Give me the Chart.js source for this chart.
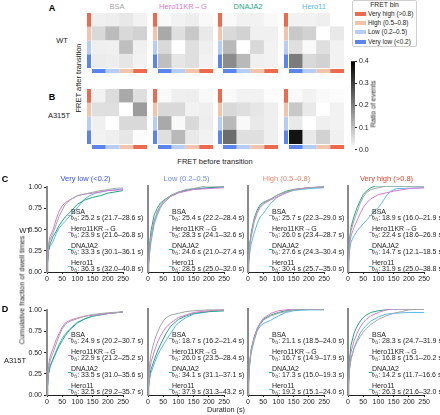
<!DOCTYPE html>
<html><head><meta charset="utf-8">
<script src="https://cdn.jsdelivr.net/npm/chart.js@4"></script>
<style>
body{margin:0;width:440px;height:415px;position:relative;background:#fff;font-family:"Liberation Sans",Arial,sans-serif;overflow:hidden}
.t{position:absolute;white-space:nowrap;font-size:7px;color:#222;line-height:1}
canvas{position:absolute}
sub{font-size:5px;vertical-align:-1px;line-height:0}
</style></head><body>
<script>
// ---------- DATA ----------
const binsBefore = ['Very low', 'Low', 'High', 'Very high'];
const legendLabels = ['Very high (>0.8)', 'High (0.5–0.8)', 'Low (0.2–0.5)', 'Very low (<0.2)'];
const binColors = ['#5c84ee', '#b8cdf5', '#f4c3ab', '#ee6a4f']; // very low .. very high
const proteins = ['BSA', 'Hero11KR→G', 'DNAJA2', 'Hero11'];
const proteinColors = ['#a5a5a5', '#d97bd0', '#22a97f', '#5ab8f0'];
const panelTitles = ['Very low (<0.2)', 'Low (0.2–0.5)', 'High (0.5–0.8)', 'Very high (>0.8)'];
const panelTitleColors = ['#3552ee', '#6d8df2', '#e88a70', '#e0462c'];
const colorbarTicks = [0, 0.1, 0.2, 0.3, 0.4];

// heatmaps: rows = after (Very high, High, Low, Very low), cols = before (Very low..Very high)
const hm_WT_BSA = [[0.024,0.027,0.036,0.02],[0.06,0.107,0.06,0.07],[0.025,0.024,0.1,0.024],[0.03,0.027,0.04,0.02]];
const hm_WT_KR  = [[0.01,0.02,0.027,0.01],[0.135,0.05,0.086,0.035],[0.06,0.0,0.05,0.025],[0.1,0.04,0.05,0.02]];
const hm_WT_DJ  = [[0.01,0.02,0.02,0.01],[0.06,0.07,0.024,0.024],[0.11,0.0,0.06,0.02],[0.18,0.11,0.024,0.02]];
const hm_WT_H11 = [[0.02,0.02,0.025,0.0],[0.086,0.07,0.0,0.035],[0.05,0.01,0.05,0.02],[0.205,0.06,0.07,0.02]];
const hm_MT_BSA = [[0.02,0.055,0.135,0.05],[0.05,0.05,0.0,0.155],[0.024,0.0,0.06,0.06],[0.02,0.025,0.04,0.005]];
const hm_MT_KR  = [[0.01,0.025,0.027,0.01],[0.06,0.06,0.02,0.025],[0.135,0.01,0.06,0.027],[0.05,0.11,0.035,0.02]];
const hm_MT_DJ  = [[0.01,0.02,0.02,0.005],[0.06,0.05,0.04,0.025],[0.11,0.01,0.035,0.025],[0.23,0.05,0.05,0.025]];
const hm_MT_H11 = [[0.01,0.02,0.01,0.005],[0.086,0.035,0.0,0.02],[0.035,0.0,0.025,0.02],[0.37,0.035,0.07,0.024]];

// CDF curves [duration s, cumulative fraction]
const c_WT_VL_BSA = [[0,0],[2,0.12],[5,0.3],[10,0.38],[20,0.46],[30,0.56],[40,0.66],[50,0.73],[60,0.8],[80,0.86],[100,0.9],[125,0.92],[150,0.94],[175,0.96],[200,0.97],[230,0.99],[250,0.99]];
const c_WT_VL_KR  = [[0,0],[2,0.15],[5,0.33],[10,0.42],[20,0.5],[30,0.62],[40,0.72],[50,0.78],[60,0.82],[80,0.86],[100,0.9],[125,0.92],[150,0.93],[200,0.96],[250,0.97]];
const c_WT_VL_DJ  = [[0,0],[2,0.1],[5,0.25],[10,0.33],[20,0.42],[30,0.48],[40,0.55],[50,0.6],[60,0.65],[80,0.72],[100,0.8],[125,0.85],[150,0.88],[175,0.9],[200,0.93],[250,0.96]];
const c_WT_VL_H11 = [[0,0],[2,0.1],[5,0.25],[10,0.3],[20,0.36],[30,0.45],[40,0.52],[50,0.56],[60,0.6],[80,0.68],[100,0.76],[120,0.85],[140,0.9],[160,0.93],[200,0.96],[250,0.98]];
const c_WT_L_BSA  = [[0,0],[2,0.1],[5,0.25],[10,0.4],[20,0.58],[30,0.7],[40,0.77],[50,0.82],[75,0.89],[100,0.93],[125,0.96],[150,0.97],[175,0.99],[190,1.0],[250,1.0]];
const c_WT_L_KR   = [[0,0],[2,0.1],[5,0.27],[10,0.42],[20,0.6],[30,0.68],[40,0.76],[50,0.8],[75,0.88],[100,0.92],[125,0.94],[150,0.96],[200,0.97],[250,0.98]];
const c_WT_L_DJ   = [[0,0],[2,0.12],[5,0.32],[10,0.48],[20,0.66],[30,0.74],[40,0.8],[50,0.83],[75,0.89],[100,0.93],[125,0.95],[150,0.96],[200,0.98],[250,0.99]];
const c_WT_L_H11  = [[0,0],[2,0.08],[5,0.2],[10,0.35],[20,0.55],[30,0.66],[40,0.74],[50,0.8],[75,0.88],[100,0.92],[125,0.95],[150,0.97],[200,0.98],[250,0.99]];
const c_WT_H_BSA  = [[0,0],[2,0.12],[5,0.3],[10,0.42],[20,0.6],[30,0.7],[40,0.76],[50,0.8],[75,0.85],[100,0.9],[125,0.93],[150,0.95],[175,0.97],[200,0.98],[250,0.99]];
const c_WT_H_KR   = [[0,0],[2,0.1],[5,0.28],[10,0.4],[20,0.58],[30,0.68],[40,0.75],[50,0.79],[75,0.84],[100,0.88],[125,0.92],[150,0.96],[200,0.98],[250,0.99]];
const c_WT_H_DJ   = [[0,0],[2,0.12],[5,0.3],[10,0.45],[20,0.62],[30,0.72],[40,0.78],[50,0.81],[75,0.85],[100,0.9],[125,0.94],[150,0.96],[200,0.98],[250,0.99]];
const c_WT_H_H11  = [[0,0],[2,0.08],[5,0.2],[10,0.32],[20,0.45],[30,0.56],[40,0.64],[50,0.68],[60,0.73],[75,0.8],[90,0.85],[100,0.88],[125,0.92],[150,0.95],[200,0.97],[250,0.98]];
const c_WT_VH_BSA = [[0,0],[2,0.15],[5,0.35],[10,0.48],[20,0.6],[30,0.7],[40,0.8],[50,0.87],[60,0.92],[75,0.96],[100,0.98],[125,1.0],[250,1.0]];
const c_WT_VH_KR  = [[0,0],[2,0.12],[5,0.3],[10,0.42],[20,0.52],[30,0.6],[40,0.68],[50,0.75],[60,0.8],[75,0.85],[100,0.9],[125,0.92],[150,0.94],[200,0.97],[250,0.98]];
const c_WT_VH_DJ  = [[0,0],[2,0.18],[5,0.38],[10,0.52],[20,0.65],[30,0.75],[40,0.83],[50,0.9],[60,0.94],[75,0.98],[90,1.0],[250,1.0]];
const c_WT_VH_H11 = [[0,0],[2,0.1],[5,0.25],[10,0.35],[20,0.42],[30,0.48],[40,0.52],[50,0.56],[60,0.6],[75,0.66],[90,0.72],[100,0.75],[110,0.8],[125,0.88],[140,0.94],[160,0.97],[250,0.98]];
const c_MT_VL_BSA = [[0,0],[2,0.12],[5,0.3],[10,0.4],[20,0.5],[30,0.6],[40,0.7],[50,0.78],[60,0.83],[75,0.87],[100,0.9],[125,0.93],[150,0.95],[200,0.97],[250,0.98]];
const c_MT_VL_KR  = [[0,0],[2,0.15],[5,0.35],[10,0.45],[20,0.55],[30,0.65],[40,0.73],[50,0.8],[60,0.85],[75,0.88],[100,0.91],[125,0.93],[150,0.94],[200,0.96],[250,0.98]];
const c_MT_VL_DJ  = [[0,0],[2,0.1],[5,0.25],[10,0.33],[20,0.42],[30,0.5],[40,0.58],[50,0.64],[60,0.7],[75,0.77],[100,0.85],[125,0.9],[150,0.93],[200,0.96],[250,0.98]];
const c_MT_VL_H11 = [[0,0],[2,0.1],[5,0.25],[10,0.34],[20,0.43],[30,0.52],[40,0.6],[50,0.67],[60,0.72],[75,0.78],[100,0.86],[125,0.9],[150,0.93],[200,0.96],[250,0.98]];
const c_MT_L_BSA  = [[0,0],[2,0.15],[5,0.35],[10,0.48],[20,0.62],[30,0.72],[40,0.8],[50,0.86],[60,0.9],[75,0.93],[100,0.95],[125,0.97],[150,0.98],[200,0.99],[250,0.99]];
const c_MT_L_KR   = [[0,0],[2,0.12],[5,0.28],[10,0.38],[20,0.5],[30,0.6],[40,0.68],[50,0.74],[60,0.79],[75,0.84],[100,0.9],[125,0.93],[150,0.96],[200,0.98],[250,0.99]];
const c_MT_L_DJ   = [[0,0],[2,0.1],[5,0.22],[10,0.3],[20,0.4],[30,0.5],[40,0.58],[50,0.65],[60,0.72],[75,0.8],[100,0.88],[125,0.92],[150,0.95],[200,0.97],[250,0.98]];
const c_MT_L_H11  = [[0,0],[2,0.08],[5,0.18],[10,0.26],[20,0.36],[30,0.45],[40,0.52],[50,0.58],[60,0.64],[75,0.72],[90,0.8],[100,0.84],[125,0.9],[150,0.94],[200,0.97],[250,0.98]];
const c_MT_H_BSA  = [[0,0],[2,0.15],[5,0.35],[10,0.5],[20,0.65],[30,0.75],[40,0.82],[50,0.87],[75,0.92],[100,0.95],[125,0.97],[150,0.99],[175,1.0],[250,1.0]];
const c_MT_H_KR   = [[0,0],[2,0.15],[5,0.36],[10,0.52],[20,0.67],[30,0.77],[40,0.84],[50,0.89],[75,0.95],[100,0.98],[125,0.99],[150,1.0],[250,1.0]];
const c_MT_H_DJ   = [[0,0],[2,0.15],[5,0.36],[10,0.52],[20,0.67],[30,0.77],[40,0.83],[50,0.88],[75,0.93],[100,0.96],[125,0.98],[150,0.99],[200,1.0],[250,1.0]];
const c_MT_H_H11  = [[0,0],[2,0.14],[5,0.33],[10,0.48],[20,0.63],[30,0.74],[40,0.8],[50,0.83],[75,0.87],[100,0.92],[125,0.96],[150,0.98],[200,0.99],[250,0.99]];
const c_MT_VH_BSA = [[0,0],[2,0.12],[5,0.3],[10,0.42],[20,0.54],[30,0.62],[40,0.68],[50,0.73],[60,0.77],[75,0.82],[100,0.88],[125,0.92],[150,0.95],[175,0.97],[200,0.99],[250,1.0]];
const c_MT_VH_KR  = [[0,0],[2,0.15],[5,0.36],[10,0.5],[20,0.63],[30,0.72],[40,0.79],[50,0.84],[60,0.88],[75,0.92],[100,0.96],[125,0.99],[150,1.0],[250,1.0]];
const c_MT_VH_DJ  = [[0,0],[2,0.18],[5,0.42],[10,0.58],[20,0.72],[30,0.8],[40,0.86],[50,0.9],[60,0.93],[75,0.96],[100,0.98],[150,1.0],[250,1.0]];
const c_MT_VH_H11 = [[0,0],[2,0.12],[5,0.3],[10,0.42],[20,0.55],[30,0.64],[40,0.72],[50,0.77],[60,0.81],[75,0.86],[100,0.91],[125,0.94],[150,0.95],[200,0.96],[250,0.96]];

// half-times
const th_WT_VL = ['25.2 s (21.7–28.6 s)', '23.9 s (21.6–26.8 s)', '33.3 s (30.1–36.1 s)', '36.3 s (32.0–40.8 s)'];
const th_WT_L  = ['25.4 s (22.2–28.4 s)', '28.3 s (24.1–32.6 s)', '24.6 s (21.0–27.4 s)', '28.5 s (25.0–32.0 s)'];
const th_WT_H  = ['25.7 s (22.3–29.0 s)', '26.0 s (23.4–28.7 s)', '27.6 s (24.3–30.4 s)', '30.4 s (25.7–35.0 s)'];
const th_WT_VH = ['18.9 s (16.0–21.9 s)', '22.4 s (18.6–26.9 s)', '14.7 s (12.1–18.5 s)', '31.9 s (25.0–38.8 s)'];
const th_MT_VL = ['24.9 s (20.2–30.7 s)', '22.9 s (21.2–25.2 s)', '33.5 s (31.0–35.6 s)', '32.5 s (29.2–35.7 s)'];
const th_MT_L  = ['18.7 s (16.2–21.4 s)', '26.0 s (23.5–28.4 s)', '34.1 s (31.1–37.1 s)', '37.9 s (31.3–43.2 s)'];
const th_MT_H  = ['21.1 s (18.5–24.0 s)', '16.7 s (14.9–17.9 s)', '17.3 s (15.0–19.3 s)', '19.2 s (15.1–24.0 s)'];
const th_MT_VH = ['28.3 s (24.7–31.9 s)', '16.8 s (15.1–20.2 s)', '14.2 s (11.7–16.6 s)', '26.3 s (21.6–32.0 s)'];

// ---------- RENDER ----------
Chart.defaults.font.family = '"Liberation Sans", Arial, sans-serif';
Chart.defaults.font.size = 7;
Chart.defaults.color = '#222';
Chart.defaults.animation = false;
Chart.defaults.responsive = false;
Chart.defaults.plugins.legend.display = false;
Chart.defaults.plugins.tooltip.enabled = false;

function mkCanvas(l, t, w, h) {
  const c = document.createElement('canvas');
  c.width = w; c.height = h;
  c.style.left = l + 'px'; c.style.top = t + 'px';
  c.style.width = w + 'px'; c.style.height = h + 'px';
  document.body.appendChild(c);
  return c;
}
function txt(html, x, y, o = {}) {
  const d = document.createElement('div');
  d.className = 't';
  d.innerHTML = html;
  d.style.left = x + 'px'; d.style.top = y + 'px';
  if (o.size) d.style.fontSize = o.size + 'px';
  if (o.color) d.style.color = o.color;
  if (o.bold) d.style.fontWeight = 'bold';
  let tr = o.anchor === 'left' ? 'translate(0,-50%)' : 'translate(-50%,-50%)';
  if (o.rot) tr += ' rotate(' + o.rot + 'deg)';
  d.style.transform = tr;
  document.body.appendChild(d);
  return d;
}
function gray(v) {
  const c = Math.round(255 * (1 - Math.min(v, 0.4) / 0.4));
  return `rgb(${c},${c},${c})`;
}

// Heatmaps
const hmGridX = [92, 158, 223, 289], hmGridY = [13, 89], hmSize = 55;
const hmAll = [[hm_WT_BSA, hm_WT_KR, hm_WT_DJ, hm_WT_H11], [hm_MT_BSA, hm_MT_KR, hm_MT_DJ, hm_MT_H11]];
const stripPlugin = {
  id: 'strips',
  afterDatasetsDraw(chart) {
    const { ctx, chartArea: a, scales: { x, y } } = chart;
    for (let i = 0; i < 4; i++) {
      ctx.fillStyle = binColors[i];
      const l = x.getPixelForValue(i - 0.5), r = x.getPixelForValue(i + 0.5);
      ctx.fillRect(l, a.bottom + 1, r - l, 4);
      const t = y.getPixelForValue(i + 1), b = y.getPixelForValue(i);
      ctx.fillRect(a.left - 5, t, 4, b - t);
    }
  }
};
hmAll.forEach((row, r) => row.forEach((m, c) => {
  const cv = mkCanvas(hmGridX[c] - 5, hmGridY[r], hmSize + 5, hmSize + 5);
  const datasets = [0, 1, 2, 3].map(j => ({
    data: [1, 1, 1, 1],
    backgroundColor: m[3 - j].map(gray),
    borderWidth: 0, barPercentage: 1, categoryPercentage: 1
  }));
  new Chart(cv, {
    type: 'bar',
    data: { labels: binsBefore, datasets },
    options: {
      layout: { padding: { left: 5, bottom: 5, top: 0, right: 0 } },
      scales: { x: { stacked: true, display: false }, y: { stacked: true, display: false, min: 0, max: 4 } }
    },
    plugins: [stripPlugin]
  });
}));
proteins.forEach((p, i) => txt(p, hmGridX[i] + 25, 7, { size: 7.5, color: proteinColors[i] }));
txt('A', 52, 8, { size: 9, bold: true, color: '#000' });
txt('B', 52, 97, { size: 9, bold: true, color: '#000' });
txt('WT', 62, 41, { size: 7.5 });
txt('A315T', 59, 116, { size: 7.5 });
txt('FRET after transition', 79, 78, { size: 7.5, rot: -90 });
txt('FRET before transition', 215, 162, { size: 7.5 });

// Legend box
const lg = document.createElement('div');
lg.style.cssText = 'position:absolute;left:352px;top:0px;width:65px;height:47px;border:1px solid #cfcfcf;border-radius:2px;box-sizing:border-box';
document.body.appendChild(lg);
txt('FRET bin', 384.5, 5, { size: 6.8 });
legendLabels.forEach((l, i) => {
  const sw = document.createElement('div');
  sw.style.cssText = `position:absolute;left:355px;top:${11.7 + i * 9.3}px;width:11px;height:4px;background:${binColors[3 - i]}`;
  document.body.appendChild(sw);
  txt(l, 368, 13.7 + i * 9.3, { anchor: 'left', size: 6.4 });
});

// Colorbar
{
  const cv = mkCanvas(346, 55, 30, 101);
  new Chart(cv, {
    type: 'bar',
    data: { labels: [''], datasets: [{ data: [0.4], borderWidth: 0, barPercentage: 1, categoryPercentage: 1,
      backgroundColor: (ctx) => {
        const a = ctx.chart.chartArea; if (!a) return '#888';
        const g = ctx.chart.ctx.createLinearGradient(0, a.bottom, 0, a.top);
        g.addColorStop(0, '#ffffff'); g.addColorStop(1, '#000000'); return g;
      } }] },
    options: {
      layout: { padding: { left: 5, top: 5, bottom: 5, right: 0 } },
      scales: {
        x: { display: false },
        y: { position: 'right', min: 0, max: 0.4, afterFit(s) { s.width = 21; },
          afterBuildTicks(s) { s.ticks = colorbarTicks.map(v => ({ value: v })); },
          ticks: { callback: v => v.toFixed(1), padding: 2, font: { size: 7 } },
          grid: { drawOnChartArea: false, drawTicks: true, tickLength: 2, color: '#222' },
          border: { display: false } }
      }
    }
  });
  txt('Ratio of events', 373, 104, { size: 7, rot: -90 });
}

// CDF plots
const cdfX0 = [47, 148, 248, 348], cdfY0 = [186, 309], cdfW = 77, cdfH = 86;
const cdfAll = [
  [[c_WT_VL_BSA, c_WT_VL_KR, c_WT_VL_DJ, c_WT_VL_H11], [c_WT_L_BSA, c_WT_L_KR, c_WT_L_DJ, c_WT_L_H11],
   [c_WT_H_BSA, c_WT_H_KR, c_WT_H_DJ, c_WT_H_H11], [c_WT_VH_BSA, c_WT_VH_KR, c_WT_VH_DJ, c_WT_VH_H11]],
  [[c_MT_VL_BSA, c_MT_VL_KR, c_MT_VL_DJ, c_MT_VL_H11], [c_MT_L_BSA, c_MT_L_KR, c_MT_L_DJ, c_MT_L_H11],
   [c_MT_H_BSA, c_MT_H_KR, c_MT_H_DJ, c_MT_H_H11], [c_MT_VH_BSA, c_MT_VH_KR, c_MT_VH_DJ, c_MT_VH_H11]]
];
const thAll = [[th_WT_VL, th_WT_L, th_WT_H, th_WT_VH], [th_MT_VL, th_MT_L, th_MT_H, th_MT_VH]];
const nameOff = [24.5, 41.5, 58.5, 75.5];

cdfAll.forEach((row, r) => row.forEach((series, c) => {
  const x0 = cdfX0[c], yT = cdfY0[r];
  const cv = mkCanvas(x0 - 30, yT - 5, 30 + cdfW + 6, 5 + cdfH + 14);
  new Chart(cv, {
    type: 'scatter',
    data: { datasets: series.map((d, i) => ({
      data: d.map(p => ({ x: p[0], y: p[1] })), showLine: true, borderColor: proteinColors[i],
      borderWidth: 1, pointRadius: 0, tension: 0 })) },
    options: {
      layout: { padding: { top: 5, right: 6, left: 0, bottom: 0 } },
      scales: {
        x: { type: 'linear', min: 0, max: 250, afterFit(s) { s.height = 14; },
          ticks: { stepSize: 50, autoSkip: false, maxRotation: 0, padding: 1 },
          grid: { drawOnChartArea: false, drawTicks: true, tickLength: 2, color: '#222' },
          border: { color: '#222', width: 1 } },
        y: { min: 0, max: 1, afterFit(s) { s.width = 30; },
          ticks: { display: c === 0, stepSize: 0.25, callback: v => v.toFixed(2), padding: 2 },
          grid: { drawOnChartArea: false, drawTicks: c === 0, tickLength: 3, color: '#222' },
          border: { color: '#8a8a8a', width: 2 } }
      }
    }
  });
  // annotations
  const th = thAll[r][c];
  proteins.forEach((p, i) => {
    const tx = x0 + 24, ty = yT + nameOff[i];
    txt(p, tx, ty, { anchor: 'left', size: 7 });
    txt('t<sub>½</sub>: ' + th[i], tx, ty + 6.5, { anchor: 'left', size: 7 });
    const mk = document.createElement('div');
    mk.style.cssText = `position:absolute;left:${tx - 3.5}px;top:${ty + 4.5}px;width:3px;height:1px;background:${proteinColors[i]}`;
    document.body.appendChild(mk);
  });
  if (r === 0) txt(panelTitles[c], x0 + cdfW / 2, 179, { size: 7.5, color: panelTitleColors[c] });
}));
txt('C', 5, 179, { size: 9, bold: true, color: '#000' });
txt('D', 5, 309, { size: 9, bold: true, color: '#000' });
txt('WT', 25, 231, { size: 7.5 });
txt('A315T', 15, 361, { size: 7.5 });
txt('Cumulative fraction of dwell times', 22, 290, { size: 7.3, rot: -90 });
txt('Duration (s)', 226, 410, { size: 7.3 });
</script>
</body></html>
